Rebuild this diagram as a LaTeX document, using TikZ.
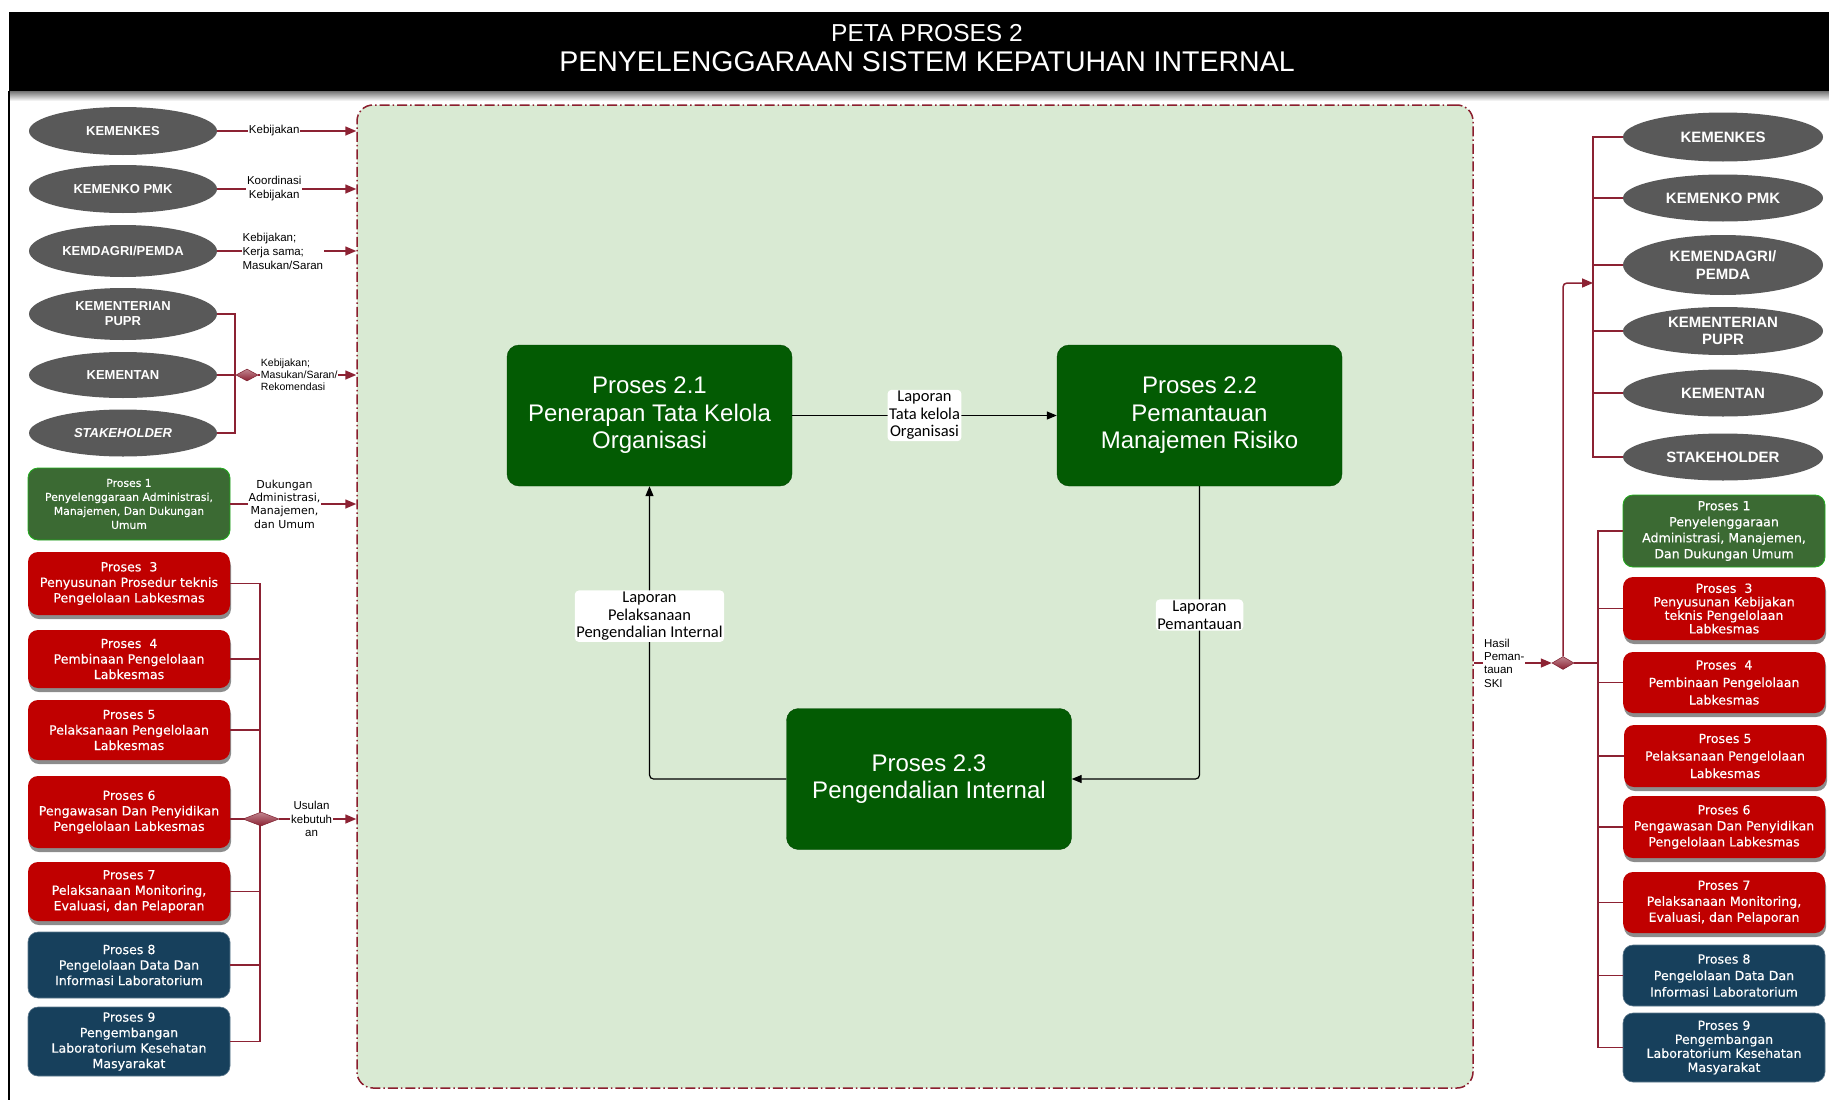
\documentclass[tikz,border=0pt]{standalone}
\usepackage{fontspec}
\setmainfont{Liberation Sans}
\newfontfamily\procfont[FakeBold=0.35]{DejaVu Sans}
\newfontfamily\plainfont{DejaVu Sans}
\newfontfamily\notefont{Carlito}
\usetikzlibrary{shapes.geometric,arrows.meta,shadows,calc}

\definecolor{linkred}{HTML}{8C2233}
\definecolor{ovalgray}{HTML}{595959}
\definecolor{procred}{HTML}{C00000}
\definecolor{procnavy}{HTML}{17405C}
\definecolor{procgreen}{HTML}{3B6A33}
\definecolor{coregreen}{HTML}{035B03}
\definecolor{areagreen}{HTML}{D9EAD3}
\definecolor{areaborder}{HTML}{8B1E2E}

\newcommand{\fsz}[2]{\fontsize{#1}{#2}\selectfont}

\begin{document}
\begin{tikzpicture}[x=1pt,y=-1pt,
  oval/.style={ellipse, fill=ovalgray, text=white, font=\bfseries\fsz{13}{15},
    align=center, inner sep=0pt, minimum width=188pt},
  roval/.style={oval, font=\bfseries\fsz{15}{17.5}, minimum width=200pt},
  proc/.style={rectangle, rounded corners=10pt, minimum width=202pt, text=white,
    align=center, inner sep=1pt, font=\procfont\fsz{12.6}{15.5}},
  redproc/.style={proc, fill=procred,
    drop shadow={shadow xshift=1pt, shadow yshift=-4pt, opacity=0.45, fill=black}},
  navyproc/.style={proc, fill=procnavy, draw=procnavy!70!white, line width=0.6pt},
  greenproc/.style={proc, fill=procgreen, draw=green!45!procgreen, line width=0.8pt},
  core/.style={rectangle, rounded corners=12pt, fill=coregreen, draw=coregreen!80!black,
    minimum width=285pt, minimum height=141pt, text=white, align=center,
    font=\fsz{24}{27.5}},
  link/.style={draw=linkred, line width=1.5pt},
  linkarrow/.style={link, -{Triangle[length=11pt,width=9pt]}},
  corearrow/.style={draw=black, line width=1.2pt, rounded corners=4pt,
    -{Triangle[length=10pt,width=8pt]}},
  note/.style={fill=white, inner sep=1.5pt, align=center, font=\notefont\fsz{16.5}{17.5}},
  tag/.style={fill=white, inner sep=1pt, align=center, font=\fsz{11.5}{14}},
  joint/.style={diamond, inner sep=0pt, top color=linkred!55!white, bottom color=linkred,
    draw=linkred!90!black, line width=0.5pt}
]
\useasboundingbox (0,0) rectangle (1829,1100);
\fill[white] (0,0) rectangle (1829,1100);

% title band with its shadow and the left frame line
\fill[black] (9,12) rectangle (1829,91);
\shade[top color=black!55, bottom color=white] (9,91) rectangle (1829,101);
\draw[black, line width=2pt] (9,91) -- (9,1100);
\node[text=white, font=\fsz{24.5}{28}] (t1) at (927,33) {PETA PROSES 2};
\node[text=white, font=\fsz{28.5}{32}] (t2) at (927,62) {PENYELENGGARAAN SISTEM KEPATUHAN INTERNAL};

% process area
\node[draw=areaborder, fill=areagreen, rounded corners=16pt, line width=1.5pt,
  dash pattern=on 10pt off 3pt on 1.5pt off 3pt, minimum width=1116pt,
  minimum height=983pt, inner sep=0pt] (area) at (915,596.5) {};

% core processes
\node[core] (p21) at (649.5,415.5) {Proses 2.1\\Penerapan Tata Kelola\\Organisasi};
\node[core] (p22) at (1199.5,415.5) {Proses 2.2\\Pemantauan\\Manajemen Risiko};
\node[core] (p23) at (929,779) {Proses 2.3\\Pengendalian Internal};

\draw[corearrow] (p21.east) -- (p22.west)
  node[note, midway] (n1) {Laporan\\Tata kelola\\Organisasi};
\draw[corearrow] (p22.south) |- (p23.east)
  node[note, pos=0.22] (n2) {Laporan\\Pemantauan};
\draw[corearrow] (p23.west) -| (p21.south)
  node[note, pos=0.778] (n3) {Laporan\\Pelaksanaan\\Pengendalian Internal};

% left: external parties
\node[oval, minimum height=48pt] (lk1) at (123,131) {KEMENKES};
\node[oval, minimum height=48pt] (lk2) at (123,189) {KEMENKO PMK};
\node[oval, minimum height=52pt] (lk3) at (123,251) {KEMDAGRI/PEMDA};
\node[oval, minimum height=52pt] (lk4) at (123,314) {KEMENTERIAN\\PUPR};
\node[oval, minimum height=46pt] (lk5) at (123,375) {KEMENTAN};
\node[oval, minimum height=47pt] (lk6) at (123,433) {\itshape STAKEHOLDER};

\draw[linkarrow] (lk1.east) -- (lk1.east -| area.west)
  node[tag, pos=0.41] (lt1) {Kebijakan};
\draw[linkarrow] (lk2.east) -- (lk2.east -| area.west)
  node[tag, pos=0.41] (lt2) {Koordinasi\\Kebijakan};
\draw[linkarrow] (lk3.east) -- (lk3.east -| area.west)
  node[tag, pos=0.17, anchor=west, align=left] (lt3) {Kebijakan;\\Kerja sama;\\Masukan/Saran};

\coordinate (lb) at (235,0);
\draw[link] (lk4.east) -- (lk4.east -| lb) -- (lk6.east -| lb) -- (lk6.east);
\node[joint, minimum width=22pt, minimum height=12pt] (ldia) at (247,375) {};
\draw[link] (lk5.east) -- (ldia.west);
\draw[linkarrow] (ldia.east) -- (ldia.east -| area.west)
  node[tag, pos=0.01, anchor=west, align=left, font=\fsz{10.5}{12}] (lt4)
  {Kebijakan;\\Masukan/Saran/\\Rekomendasi};

% left: related processes
\node[greenproc, minimum height=72pt, font=\procfont\fsz{10.8}{14}] (lp1) at (129,504)
  {Proses 1\\Penyelenggaraan Administrasi,\\Manajemen, Dan Dukungan\\Umum};
\node[redproc, minimum height=63pt] (lp3) at (129,583.5)
  {Proses\ \ 3\\Penyusunan Prosedur teknis\\Pengelolaan Labkesmas};
\node[redproc, minimum height=58pt] (lp4) at (129,659)
  {Proses\ \ 4\\Pembinaan Pengelolaan\\Labkesmas};
\node[redproc, minimum height=60pt] (lp5) at (129,730)
  {Proses 5\\Pelaksanaan Pengelolaan\\Labkesmas};
\node[redproc, minimum height=72pt] (lp6) at (129,812)
  {Proses 6\\Pengawasan Dan Penyidikan\\Pengelolaan Labkesmas};
\node[redproc, minimum height=59pt] (lp7) at (129,891.5)
  {Proses 7\\Pelaksanaan Monitoring,\\Evaluasi, dan Pelaporan};
\node[navyproc, minimum height=66pt] (lp8) at (129,965)
  {Proses 8\\Pengelolaan Data Dan\\Informasi Laboratorium};
\node[navyproc, minimum height=69pt] (lp9) at (129,1041.5)
  {Proses 9\\Pengembangan\\Laboratorium Kesehatan\\Masyarakat};

\draw[linkarrow] (lp1.east) -- (lp1.east -| area.west)
  node[tag, pos=0.43, font=\plainfont\fsz{11}{13.3}] (lt5)
  {Dukungan\\Administrasi,\\Manajemen,\\dan Umum};

\coordinate (lb2) at (260,0);
\coordinate (ljoin) at (261,819);
\draw[link] (lp3.east) -- (lp3.east -| lb2) -- (lp9.east -| lb2) -- (lp9.east);
\foreach \p in {lp4,lp5,lp7,lp8} \draw[link] (\p.east) -- (\p.east -| lb2);
\draw[link] (lp6.east |- ljoin) -- (ljoin);
\node[joint, minimum width=36pt, minimum height=14pt] (ldia2) at (ljoin) {};
\draw[linkarrow] (ldia2.east) -- (ldia2.east -| area.west)
  node[tag, pos=0.42, font=\fsz{11.5}{13.3}] (lt6) {Usulan\\kebutuh\\an};

% right: receiving parties
\node[roval, minimum height=49pt] (rk1) at (1723,137) {KEMENKES};
\node[roval, minimum height=47pt] (rk2) at (1723,198) {KEMENKO PMK};
\node[roval, minimum height=60pt] (rk3) at (1723,265) {KEMENDAGRI/\\PEMDA};
\node[roval, minimum height=48pt] (rk4) at (1723,331) {KEMENTERIAN\\PUPR};
\node[roval, minimum height=47pt] (rk5) at (1723,393) {KEMENTAN};
\node[roval, minimum height=47pt] (rk6) at (1723,457) {STAKEHOLDER};

\coordinate (rb) at (1593,0);
\draw[link] (rk1.west) -- (rk1.west -| rb) -- (rk6.west -| rb) -- (rk6.west);
\foreach \k in {rk2,rk3,rk4,rk5} \draw[link] (\k.west) -- (\k.west -| rb);

% right: receiving processes
\node[greenproc, minimum height=72pt, font=\procfont\fsz{12.6}{16}] (rp1) at (1724,531)
  {Proses 1\\Penyelenggaraan\\Administrasi, Manajemen,\\Dan Dukungan Umum};
\node[redproc, minimum height=63pt, font=\procfont\fsz{12.6}{13.5}] (rp3) at (1724,608.5)
  {Proses\ \ 3\\Penyusunan Kebijakan\\teknis Pengelolaan\\Labkesmas};
\node[redproc, minimum height=61pt, font=\procfont\fsz{12.6}{17.5}] (rp4) at (1724,682.5)
  {Proses\ \ 4\\Pembinaan Pengelolaan\\Labkesmas};
\node[redproc, minimum height=62pt, font=\procfont\fsz{12.6}{17.5}] (rp5) at (1725,756)
  {Proses 5\\Pelaksanaan Pengelolaan\\Labkesmas};
\node[redproc, minimum height=62pt, font=\procfont\fsz{12.6}{16}] (rp6) at (1724,827)
  {Proses 6\\Pengawasan Dan Penyidikan\\Pengelolaan Labkesmas};
\node[redproc, minimum height=61pt, font=\procfont\fsz{12.6}{16}] (rp7) at (1724,902.5)
  {Proses 7\\Pelaksanaan Monitoring,\\Evaluasi, dan Pelaporan};
\node[navyproc, minimum height=61pt, font=\procfont\fsz{12.6}{16.5}] (rp8) at (1724,975.5)
  {Proses 8\\Pengelolaan Data Dan\\Informasi Laboratorium};
\node[navyproc, minimum height=69pt, font=\procfont\fsz{12.6}{14}] (rp9) at (1724,1047.5)
  {Proses 9\\Pengembangan\\Laboratorium Kesehatan\\Masyarakat};

\coordinate (rb2) at (1598,0);
\draw[link] (rp1.west) -- (rp1.west -| rb2) -- (rp9.west -| rb2) -- (rp9.west);
\foreach \p in {rp3,rp4,rp5,rp6,rp7,rp8} \draw[link] (\p.west) -- (\p.west -| rb2);

\node[joint, minimum width=22pt, minimum height=13pt] (rdia) at (1563,663) {};
\draw[link] (rdia.east) -- (rdia.east -| rb2);
\coordinate (rin) at (1593,283);
\draw[linkarrow, rounded corners=4pt] (rdia.north) |- (rin);
\draw[linkarrow] (rdia.west -| area.east) -- (rdia.west)
  node[tag, pos=0.11, anchor=west, align=left, font=\fsz{11.5}{13.3}] (rt1)
  {Hasil\\Peman-\\tauan\\SKI};
\end{tikzpicture}
\end{document}
